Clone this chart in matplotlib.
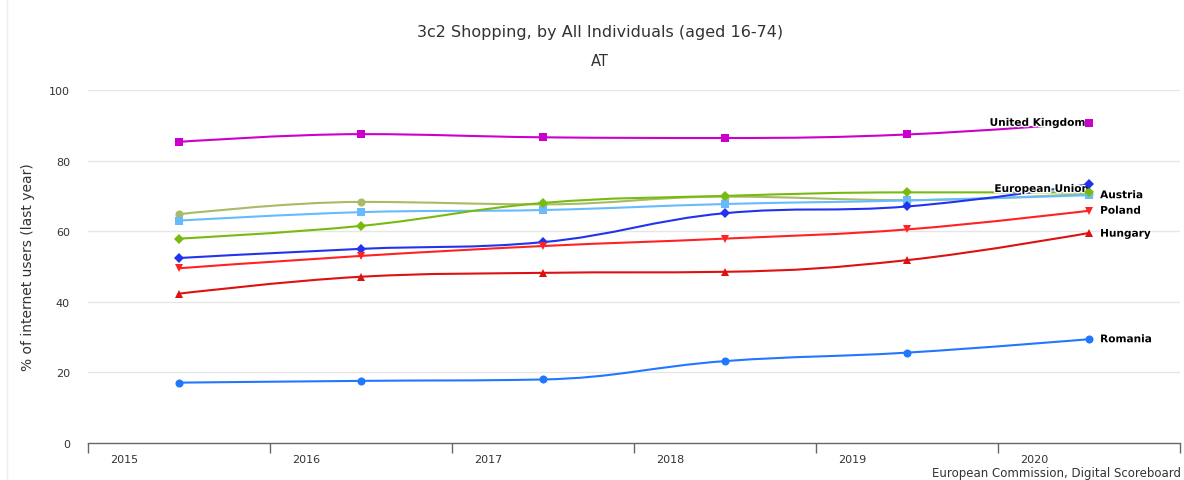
import matplotlib
matplotlib.use("Agg")
import matplotlib.pyplot as plt
from matplotlib.path import Path
from matplotlib.patches import PathPatch
import matplotlib.patheffects as pe
import numpy as np

years = ["2015", "2016", "2017", "2018", "2019", "2020"]

uk = [85.3, 87.5, 86.6, 86.4, 87.4, 90.7]
austria = [64.8, 68.3, 67.6, 69.8, 68.8, 70.6]
eu = [63.0, 65.4, 66.0, 67.7, 68.7, 70.2]
green = [57.9, 61.5, 68.0, 70.0, 71.0, 71.0]
blue = [52.4, 55.0, 56.9, 65.1, 67.0, 73.3]
poland = [49.5, 53.0, 55.8, 57.9, 60.5, 65.8]
hungary = [42.3, 47.1, 48.2, 48.5, 51.8, 59.5]
romania = [17.1, 17.6, 18.0, 23.2, 25.6, 29.4]

series = [
    ("United Kingdom", uk, "#CC00CC", "s"),
    ("Austria", austria, "#A8BB66", "o"),
    ("European Union", eu, "#66BBFF", "s"),
    ("Other 1", green, "#77BB11", "D"),
    ("Other 2", blue, "#2233EE", "D"),
    ("Poland", poland, "#FF2222", "v"),
    ("Hungary", hungary, "#DD1111", "^"),
    ("Romania", romania, "#2277FF", "o"),
]

fig = plt.figure(figsize=(11.84, 4.81), dpi=100)
W, H = 1184, 481
ax = fig.add_axes([88 / W, (H - 444) / H, (1180 - 88) / W, (444 - 91) / H])
ax.set_xlim(-0.5, 5.5)
ax.set_ylim(0, 100)


def spline_path(xs, ys, ax):
    # Highcharts-like spline drawn in display coordinates
    pts = ax.transData.transform(np.column_stack([xs, ys]))
    n = len(pts)
    sm = 1.5
    den = sm + 1
    lc = [None] * n
    rc = [None] * n
    for i in range(n):
        px, py = pts[i]
        if 0 < i < n - 1:
            lx, ly = pts[i - 1]
            nx, ny = pts[i + 1]
            lcx = (sm * px + lx) / den
            lcy = (sm * py + ly) / den
            rcx = (sm * px + nx) / den
            rcy = (sm * py + ny) / den
            corr = ((rcy - lcy) * (rcx - px)) / (rcx - lcx) + py - rcy
            lcy += corr
            rcy += corr
            if lcy > ly and lcy > py:
                lcy = max(ly, py)
                rcy = 2 * py - lcy
            elif lcy < ly and lcy < py:
                lcy = min(ly, py)
                rcy = 2 * py - lcy
            if rcy > ny and rcy > py:
                rcy = max(ny, py)
                lcy = 2 * py - rcy
            elif rcy < ny and rcy < py:
                rcy = min(ny, py)
                lcy = 2 * py - rcy
            lc[i] = (lcx, lcy)
            rc[i] = (rcx, rcy)
        else:
            lc[i] = (px, py)
            rc[i] = (px, py)
    verts = [tuple(pts[0])]
    codes = [Path.MOVETO]
    for i in range(1, n):
        verts += [rc[i - 1], lc[i], tuple(pts[i])]
        codes += [Path.CURVE4] * 3
    return Path(verts, codes)


# gridlines
for g in [20, 40, 60, 80, 100]:
    ax.axhline(g, color="#e6e6e6", lw=1.0, zorder=0)

outline = [pe.withStroke(linewidth=2, foreground="white")]
lab_kw = dict(textcoords="offset points", fontsize=7.6, fontweight="bold",
              color="black", va="center", path_effects=outline, zorder=4)
ax.annotate("United Kingdom", xy=(5, uk[-1]), xytext=(-3, 0), ha="right", **lab_kw)
ax.annotate("European Union", xy=(5, eu[-1]), xytext=(0, 4.5), ha="right", **lab_kw)
ax.annotate("Austria", xy=(5, austria[-1]), xytext=(8, -1), ha="left", **lab_kw)
ax.annotate("Poland", xy=(5, poland[-1]), xytext=(8, 0), ha="left", **lab_kw)
ax.annotate("Hungary", xy=(5, hungary[-1]), xytext=(8, -0.5), ha="left", **lab_kw)
ax.annotate("Romania", xy=(5, romania[-1]), xytext=(8, 0), ha="left", **lab_kw)

xs = np.arange(len(years))
for name, vals, col, mk in series:
    p = spline_path(xs, vals, ax)
    ax.add_patch(PathPatch(p, transform=None, facecolor="none", edgecolor=col,
                           lw=1.5, zorder=2))
    ms = 5.8 if mk in ("s", "o") else 5.5
    if mk == "D":
        ms = 4.6
    ax.plot(xs, vals, linestyle="none", marker=mk, color=col, ms=ms,
            markeredgewidth=0, zorder=5)

# axes styling
for s in ["top", "right", "left"]:
    ax.spines[s].set_visible(False)
ax.spines["bottom"].set_color("#666666")
ax.spines["bottom"].set_linewidth(1.0)
ax.set_xticks(np.arange(-0.5, 6.0, 1.0))
ax.set_xticklabels([])
ax.tick_params(axis="x", direction="out", length=7, width=1, color="#666666")
for i, y in enumerate(years):
    ax.text(i - 0.5 + 0.198, -3.2, y, ha="center", va="top", fontsize=8,
            color="#333333", transform=ax.transData, clip_on=False)

ax.set_yticks([0, 20, 40, 60, 80, 100])
ax.set_yticklabels(["0", "20", "40", "60", "80", "100"])
ax.tick_params(axis="y", length=0, pad=13, labelsize=8, labelcolor="#333333")
ax.set_ylabel("% of internet users (last year)", fontsize=10, color="#333333", labelpad=10)

fig.text(600 / W, 1 - 32 / H, "3c2 Shopping, by All Individuals (aged 16-74)",
         ha="center", va="center", fontsize=11.5, color="#333333")
fig.text(600 / W, 1 - 62 / H, "AT", ha="center", va="center", fontsize=10.5, color="#333333")
fig.text(1181 / W, 1 - 474 / H, "European Commission, Digital Scoreboard",
         ha="right", va="center", fontsize=8.5, color="#333333")
fig.add_artist(plt.Line2D([7 / W, 7 / W], [0, 1], color="#eeeeee", lw=1))

fig.savefig("out.png", dpi=100, facecolor="white")
